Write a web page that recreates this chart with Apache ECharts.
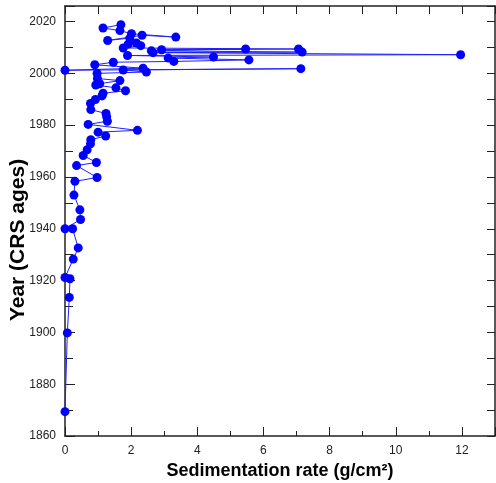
<!DOCTYPE html>
<html lang="en">

<head>
    <meta charset="UTF-8">
    <title>Sedimentation rate</title>
    <style>
        body { margin: 0; background: #fff; }
    </style>
</head>

<body>
    <div id="main" style="width: 496px;height:483px;"></div>
    <script src="https://cdn.jsdelivr.net/npm/echarts@6/dist/echarts.min.js"></script>
    <script>
        // sedimentation rate (g/cm2) and CRS year, in core order (top to bottom)
        var rate = [1.69, 1.15, 1.66, 2.01, 3.35, 2.33, 1.29, 1.96, 2.16, 1.91, 2.29, 1.76,
            7.06, 2.92, 5.46, 2.61, 7.17, 2.66, 11.96, 1.89, 4.49, 3.12, 5.56, 3.29, 1.46,
            0.90, 2.36, 0.00, 7.13, 1.76, 2.46, 0.97, 0.98, 1.66, 1.05, 0.93, 1.54, 1.83,
            1.15, 1.12, 0.92, 0.77, 0.78, 1.24, 1.26, 1.28, 0.70, 2.19, 1.00, 1.23, 0.78,
            0.77, 0.67, 0.55, 0.95, 0.35, 0.97, 0.30, 0.27, 0.45, 0.47, 0.00, 0.23, 0.40,
            0.25, 0.00, 0.15, 0.13, 0.07, 0.00];
        var year = [2018.8, 2017.5, 2016.5, 2015.3, 2014.0, 2014.7, 2012.7, 2013.6, 2011.7, 2011.3, 2010.7, 2009.8,
            2009.4, 2009.1, 2009.4, 2008.7, 2008.2, 2008.0, 2007.2, 2006.9, 2006.3, 2005.9, 2005.2, 2004.6, 2004.3,
            2003.3, 2002.0, 2001.2, 2001.8, 2001.3, 2000.5, 2000.0, 1998.0, 1997.2, 1996.0, 1995.5, 1994.4, 1993.3,
            1992.3, 1991.3, 1989.9, 1988.4, 1986.0, 1984.5, 1983.2, 1981.5, 1980.3, 1978.0, 1977.3, 1975.8, 1974.4,
            1972.8, 1970.5, 1968.3, 1965.6, 1964.4, 1959.8, 1958.3, 1953.0, 1947.3, 1943.6, 1940.0, 1940.0, 1932.6,
            1928.3, 1921.2, 1920.7, 1913.5, 1899.8, 1869.4];

        var data = rate.map(function (r, i) { return [r, year[i]]; });

        var myChart = echarts.init(document.getElementById('main'));

        var axisCol = '#222';
        var lbl = { color: '#222', fontSize: 12, fontFamily: 'Liberation Sans' };

        option = {
            animation: false,
            grid: { left: 65, right: 1, top: 6, bottom: 47, outerBoundsMode: 'none' },
            xAxis: [{
                type: 'value', min: 0, max: 13, interval: 2,
                name: 'Sedimentation rate (g/cm²)', nameLocation: 'middle', nameGap: 26,
                nameTextStyle: { fontSize: 18, fontWeight: 'bold', color: '#000', fontFamily: 'Liberation Sans' },
                axisLine: { lineStyle: { color: axisCol, width: 1.5 } },
                axisTick: { inside: true, length: 9, lineStyle: { color: axisCol } },
                minorTick: { show: true, splitNumber: 2, length: 5, lineStyle: { color: axisCol } },
                axisLabel: Object.assign({ margin: 9, showMaxLabel: false }, lbl),
                splitLine: { show: false }
            }, {
                type: 'value', position: 'top', min: 0, max: 13, interval: 1,
                axisLine: { show: true, onZero: false, lineStyle: { color: axisCol, width: 1.5 } },
                axisTick: { show: true, inside: true, length: 8, lineStyle: { color: axisCol } },
                axisLabel: { show: false },
                splitLine: { show: false }
            }],
            yAxis: [{
                type: 'value', min: 1860, max: 2026, interval: 20,
                name: 'Year (CRS ages)', nameLocation: 'middle', nameGap: 36, nameMoveOverlap: false,
                nameTextStyle: { fontSize: 21, fontWeight: 'bold', color: '#000', fontFamily: 'Liberation Sans', padding: [0, 38, 0, 0] },
                axisLine: { lineStyle: { color: axisCol, width: 1.5 } },
                axisTick: { inside: true, length: 10, lineStyle: { color: axisCol } },
                minorTick: { show: true, splitNumber: 2, length: 8, lineStyle: { color: axisCol } },
                axisLabel: Object.assign({ margin: 9, showMaxLabel: false, formatter: function (v) { return String(v); } }, lbl),
                splitLine: { show: false }
            }, {
                type: 'value', position: 'right', min: 1860, max: 2026, interval: 10,
                axisLine: { show: true, onZero: false, lineStyle: { color: axisCol, width: 1.5 } },
                axisTick: { show: true, inside: true, length: 8, lineStyle: { color: axisCol } },
                axisLabel: { show: false },
                splitLine: { show: false }
            }],
            series: [{
                type: 'line',
                data: data,
                symbol: 'circle',
                symbolSize: 9,
                itemStyle: { color: '#0000ff' },
                lineStyle: { color: '#1f1fff', width: 1 }
            }]
        };
        myChart.setOption(option);
    </script>
</body>

</html>
